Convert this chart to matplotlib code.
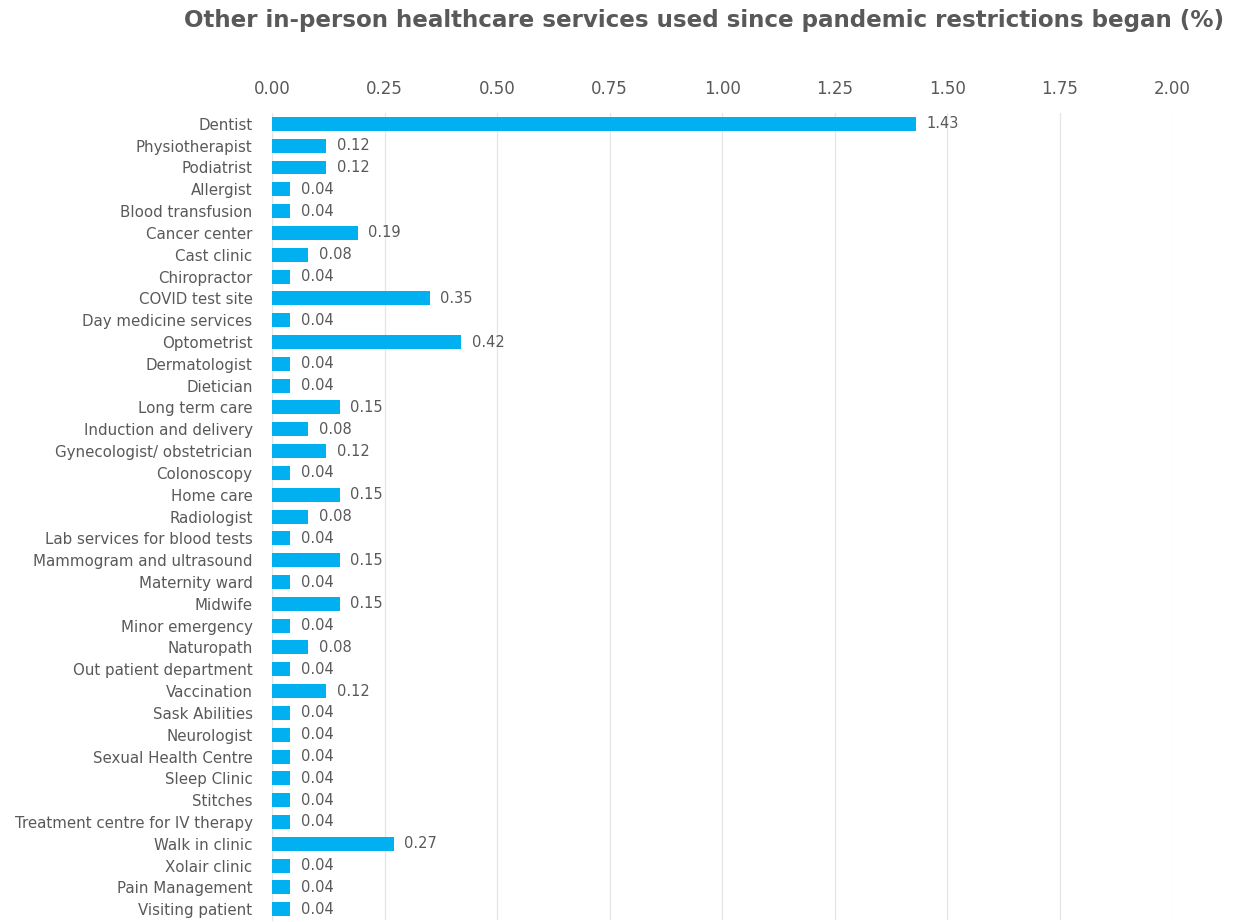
import matplotlib
matplotlib.use("Agg")
import matplotlib.pyplot as plt

services = [
    "Dentist", "Physiotherapist", "Podiatrist", "Allergist", "Blood transfusion",
    "Cancer center", "Cast clinic", "Chiropractor", "COVID test site",
    "Day medicine services", "Optometrist", "Dermatologist", "Dietician",
    "Long term care", "Induction and delivery", "Gynecologist/ obstetrician",
    "Colonoscopy", "Home care", "Radiologist", "Lab services for blood tests",
    "Mammogram and ultrasound", "Maternity ward", "Midwife", "Minor emergency",
    "Naturopath", "Out patient department", "Vaccination", "Sask Abilities",
    "Neurologist", "Sexual Health Centre", "Sleep Clinic", "Stitches",
    "Treatment centre for IV therapy", "Walk in clinic", "Xolair clinic",
    "Pain Management", "Visiting patient",
]
percent = [
    1.43, 0.12, 0.12, 0.04, 0.04, 0.19, 0.08, 0.04, 0.35, 0.04, 0.42, 0.04,
    0.04, 0.15, 0.08, 0.12, 0.04, 0.15, 0.08, 0.04, 0.15, 0.04, 0.15, 0.04,
    0.08, 0.04, 0.12, 0.04, 0.04, 0.04, 0.04, 0.04, 0.04, 0.27, 0.04, 0.04,
    0.04,
]
x_ticks = [0.0, 0.25, 0.5, 0.75, 1.0, 1.25, 1.5, 1.75, 2.0]
title = "Other in-person healthcare services used since pandemic restrictions began (%)"

text_color = "#595959"
bar_color = "#00B0F0"
plt.rcParams["font.family"] = ["DejaVu Sans"]

fig = plt.figure(figsize=(12.44, 9.22), dpi=100)
ax = fig.add_axes([0.2187, 0.002, 0.7235, 0.8755])

pos = list(range(len(services)))
ax.barh(pos, percent, height=0.64, color=bar_color, zorder=3)
for y, v in zip(pos, percent):
    ax.text(v + 0.024, y, f"{v:.2f}", va="center", ha="left",
            fontsize=10.5, color=text_color)

ax.set_xlim(0, 2.0)
ax.set_ylim(len(services) - 0.5, -0.5)
ax.set_yticks(pos)
ax.set_yticklabels(services, fontsize=10.8, color=text_color)
ax.set_xticks(x_ticks)
ax.set_xticklabels([f"{t:.2f}" for t in x_ticks], fontsize=12, color=text_color)
ax.xaxis.tick_top()
ax.tick_params(axis="x", length=0, pad=10.5)
ax.tick_params(axis="y", length=0, pad=14)
ax.grid(axis="x", color="#E6E6E6", linewidth=0.9, zorder=0)
for side in ["top", "right", "bottom"]:
    ax.spines[side].set_visible(False)
ax.spines["left"].set_color("#E6E6E6")

fig.text(0.566, 0.978, title, ha="center", va="center", fontsize=16.6,
         fontweight="bold", color=text_color)

fig.savefig("out.png", dpi=100, facecolor="white")
